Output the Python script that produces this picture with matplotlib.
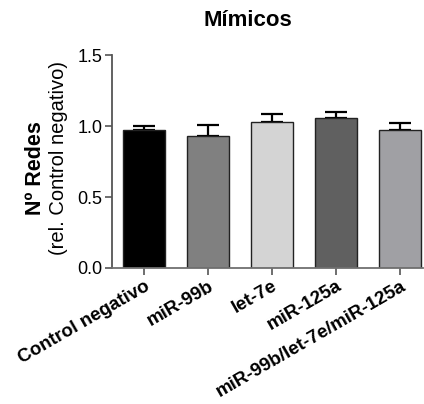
import numpy as np
import matplotlib.pyplot as plt

plt.rcParams['font.family'] = ['Liberation Sans', 'DejaVu Sans']

# Network counts relative to the negative control (mean and upper SEM)
groups = ['Control negativo', 'miR-99b', 'let-7e', 'miR-125a', 'miR-99b/let-7e/miR-125a']
values = [0.97, 0.93, 1.03, 1.055, 0.97]
errors = [0.03, 0.08, 0.055, 0.048, 0.055]
colors = ['#000000', '#808080', '#d4d4d4', '#606060', '#a0a0a4']
yticks = [0.0, 0.5, 1.0, 1.5]

fig = plt.figure(figsize=(4.24, 4.04), dpi=100)
ax = fig.add_axes([0.264, 0.337, 0.734, 0.526])

x = np.arange(len(groups))
ax.bar(x, values, width=0.66, color=colors, edgecolor='#222222', linewidth=1.0, zorder=2)
ax.errorbar(x, values, yerr=[np.zeros(len(values)), errors], fmt='none',
            ecolor='black', elinewidth=1.6, capsize=8, capthick=1.6, zorder=1)

ax.set_xlim(-0.5, 4.36)
ax.set_ylim(0, 1.5)
ax.set_yticks(yticks)
ax.set_yticklabels(['0.0', '0.5', '1.0', '1.5'], fontsize=13)
ax.set_xticks(x)
ax.set_xticklabels(groups, rotation=30, ha='right', rotation_mode='anchor',
                   fontsize=13.5, fontweight='bold')

for side in ['top', 'right']:
    ax.spines[side].set_visible(False)
ax.spines['left'].set_color('#555555')
ax.spines['bottom'].set_color('#707070')
ax.spines['left'].set_linewidth(1.3)
ax.spines['bottom'].set_linewidth(1.3)
ax.tick_params(axis='both', direction='out', length=5, width=1.2, color='#555555', pad=2)

# Title and two-line y label (bold first line, regular second line)
fig.text(0.585, 0.95, 'Mímicos', ha='center', va='center', fontsize=16, fontweight='bold')
fig.text(0.083, 0.585, 'Nº Redes', rotation=90, ha='center', va='center',
         fontsize=15.5, fontweight='bold')
fig.text(0.137, 0.61, '(rel. Control negativo)', rotation=90, ha='center', va='center',
         fontsize=14.5)

fig.savefig('out.png', dpi=100)
